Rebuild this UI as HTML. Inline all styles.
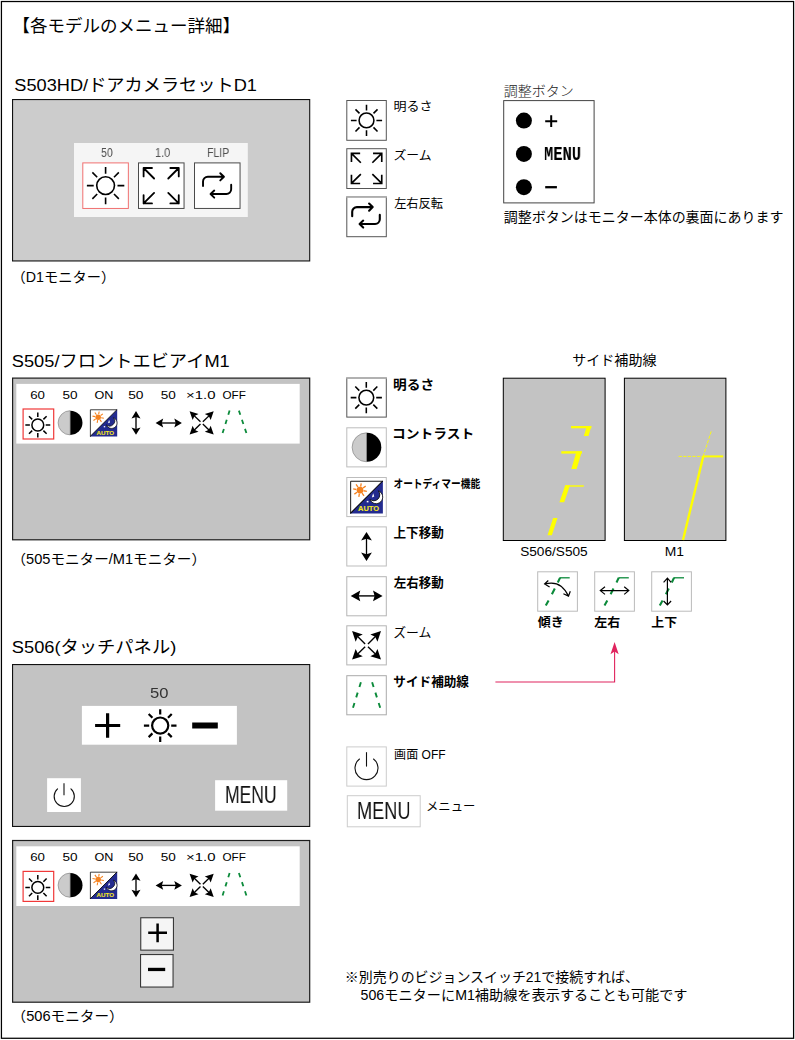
<!DOCTYPE html>
<html lang="ja">
<head>
<meta charset="utf-8">
<title>各モデルのメニュー詳細</title>
<style>
html,body{margin:0;padding:0;background:#fff}
body{width:795px;height:1040px;overflow:hidden;font-family:"Liberation Sans",sans-serif}
#page{position:relative;width:795px;height:1040px;background:#fff;overflow:hidden}
#art{position:absolute;left:0;top:0}
#art text{font-family:"Liberation Sans","Noto Sans CJK JP",sans-serif}
#text span{position:absolute;white-space:nowrap;transform-origin:0 0}
#text .l{will-change:transform}
</style>
</head>
<body>
<div id="page">
<svg id="art" width="795" height="1040" viewBox="0 0 795 1040">
<g id="shapes">
<rect x="1.43" y="1.52" width="792.15" height="1036.75" fill="none" stroke="#000" stroke-width="1.25"/>
<rect x="12.55" y="99.55" width="297.15" height="161.4" fill="#cccccc" stroke="#111" stroke-width="1.1"/>
<rect x="74" y="143" width="173.8" height="74" fill="#f5f5f5"/>
<rect x="82.8" y="162.9" width="45.55" height="45.55" fill="#fff" stroke="#f07070" stroke-width="1"/>
<rect x="138.5" y="162.9" width="45.55" height="45.55" fill="#fff" stroke="#4a4a4a" stroke-width="1"/>
<rect x="194.5" y="162.9" width="45.55" height="45.55" fill="#fff" stroke="#4a4a4a" stroke-width="1"/>
<circle cx="105.6" cy="185.6" r="8.88" fill="none" stroke="#000" stroke-width="1.6"/>
<path d="M117.48 185.6L124.32 185.6M114 194L118.84 198.84M105.6 197.48L105.6 204.32M97.2 194L92.36 198.84M93.72 185.6L86.88 185.6M97.2 177.2L92.36 172.36M105.6 173.72L105.6 166.88M114 177.2L118.84 172.36" fill="none" stroke="#000" stroke-width="1.6"/>
<path d="M152 168L143.6 168L143.6 176.4M143.6 168L154.1 178.5M170.35 168L178.75 168L178.75 176.4M178.75 168L168.25 178.5M152 203.45L143.6 203.45L143.6 195.05M143.6 203.45L154.1 192.95M170.35 203.45L178.75 203.45L178.75 195.05M178.75 203.45L168.25 192.95" fill="none" stroke="#000" stroke-width="1.8" stroke-linejoin="round" stroke-linecap="round"/>
<path d="M203.02 186.06V181.57A4.79 4.79 0 0 1 207.82 176.78H223.73M220.26 173.21L223.93 176.78L220.26 180.45M231.18 184.74V189.22A4.79 4.79 0 0 1 226.38 194.02H210.78M214.24 190.55L210.57 194.02L214.24 197.69" fill="none" stroke="#000" stroke-width="1.9" stroke-linecap="round" stroke-linejoin="round"/>
<rect x="346.8" y="100.5" width="39.5" height="39.8" fill="#fff" stroke="#555" stroke-width="1"/>
<rect x="346.8" y="148.7" width="39.5" height="39.8" fill="#fff" stroke="#555" stroke-width="1"/>
<rect x="346.8" y="196.9" width="39.5" height="39.8" fill="#fff" stroke="#555" stroke-width="1"/>
<circle cx="366.5" cy="120.4" r="7.4" fill="none" stroke="#000" stroke-width="1.55"/>
<path d="M376.4 120.4L382.1 120.4M373.5 127.4L377.53 131.43M366.5 130.3L366.5 136M359.5 127.4L355.47 131.43M356.6 120.4L350.9 120.4M359.5 113.4L355.47 109.37M366.5 110.5L366.5 104.8M373.5 113.4L377.53 109.37" fill="none" stroke="#000" stroke-width="1.55"/>
<path d="M360.15 153.35L351.45 153.35L351.45 162.05M351.45 153.35L360.85 162.75M373.05 153.35L381.75 153.35L381.75 162.05M381.75 153.35L372.35 162.75M360.15 183.45L351.45 183.45L351.45 174.75M351.45 183.45L360.85 174.05M373.05 183.45L381.75 183.45L381.75 174.75M381.75 183.45L372.35 174.05" fill="none" stroke="#000" stroke-width="1.65" stroke-linejoin="miter"/>
<path d="M352.2 216.2V211.8A4.7 4.7 0 0 1 356.9 207.1H372.5M369.1 203.6L372.7 207.1L369.1 210.7M379.8 214.9V219.3A4.7 4.7 0 0 1 375.1 224H359.8M363.2 220.6L359.6 224L363.2 227.6" fill="none" stroke="#000" stroke-width="2.1" stroke-linecap="round" stroke-linejoin="round"/>
<line x1="346.3" y1="197" x2="386.8" y2="197" stroke="#b4b4b4" stroke-width="1.4"/>
<rect x="503.7" y="100.6" width="90.4" height="102.3" fill="#fff" stroke="#444" stroke-width="1"/>
<circle cx="523.9" cy="120.6" r="8" fill="#000"/>
<circle cx="523.9" cy="153.9" r="8" fill="#000"/>
<circle cx="523.9" cy="187.2" r="8" fill="#000"/>
<path d="M545.2 121.2H557.2M551.2 115.3V127.1" fill="none" stroke="#000" stroke-width="2"/>
<path d="M545.2 187.2H556.9" fill="none" stroke="#000" stroke-width="2.3"/>
<rect x="12.6" y="378.1" width="297.1" height="161.7" fill="#c3c3c3" stroke="#1c1c1c" stroke-width="1.2"/>
<rect x="16.3" y="383.9" width="283.4" height="59.7" fill="#fff"/>
<rect x="23.1" y="409" width="30.6" height="30" fill="#fff" stroke="#f03838" stroke-width="1.2"/>
<circle cx="37.8" cy="425" r="5.92" fill="none" stroke="#000" stroke-width="1.5"/>
<path d="M45.72 425L50.28 425M43.4 430.6L46.62 433.82M37.8 432.92L37.8 437.48M32.2 430.6L28.98 433.82M29.88 425L25.32 425M32.2 419.4L28.98 416.18M37.8 417.08L37.8 412.52M43.4 419.4L46.62 416.18" fill="none" stroke="#000" stroke-width="1.5"/>
<path d="M70.2 410.7A12.1 12.1 0 0 0 70.2 434.9Z" fill="#cbcbcb" stroke="#777" stroke-width="0.6"/>
<path d="M70.4 410.7A12.1 12.1 0 0 1 70.4 434.9Z" fill="#000"/>
<g transform="translate(90 409.4) scale(0.8344)"><rect x="0" y="0" width="32.6" height="32.6" fill="#fff"/><path d="M32.6 0V32.6H0Z" fill="#232b8f"/><path d="M0.45 32.6V0.45H32.6" fill="none" stroke="#000" stroke-width="0.9"/><path d="M32.4 0.2L0.2 32.4" fill="none" stroke="#000" stroke-width="1.0"/><circle cx="9.8" cy="9.3" r="3.3" fill="#f5821f"/><path d="M13.35 9.93L16.6 10.5M11.86 12.25L13.76 14.95M9.17 12.85L8.6 16.1M6.85 11.36L4.15 13.26M6.25 8.67L3 8.1M7.74 6.35L5.84 3.65M10.43 5.75L11 2.5M12.75 7.24L15.45 5.34" stroke="#f5821f" stroke-width="1.3" fill="none"/><path d="M28.06 10A6.6 6.6 0 1 1 19.6 18.46A6 6 0 0 0 28.06 10Z" fill="#fff" stroke="#000" stroke-width="0.8" stroke-linejoin="round"/><path d="M22.9 12.4L24.0 15.6L21.6 16.6Z" fill="#fff"/><rect x="16.5" y="20.0" width="1.7" height="1.5" fill="#fff"/><text x="7.82" y="30.3" font-size="7.2" font-weight="bold" fill="#f5e61e" stroke="#f5e61e" stroke-width="0.13" textLength="20.9" lengthAdjust="spacingAndGlyphs">AUTO</text></g>
<line x1="136" y1="416.31" x2="136" y2="429.49" stroke="#000" stroke-width="1.35"/>
<path d="M136 434.8L131.5 427.4L136 428.9L140.5 427.4ZM136 411L140.5 418.4L136 416.9L131.5 418.4Z" fill="#000"/>
<line x1="161.18" y1="423" x2="176.32" y2="423" stroke="#000" stroke-width="1.35"/>
<path d="M181.9 423L174.3 427.4L175.7 423L174.3 418.6ZM155.6 423L163.2 418.6L161.8 423L163.2 427.4Z" fill="#000"/>
<line x1="200.46" y1="421.79" x2="194.08" y2="415.63" stroke="#000" stroke-width="1.36"/>
<line x1="202.84" y1="421.79" x2="209.22" y2="415.63" stroke="#000" stroke-width="1.36"/>
<line x1="200.46" y1="424.11" x2="194.08" y2="430.27" stroke="#000" stroke-width="1.36"/>
<line x1="202.84" y1="424.11" x2="209.22" y2="430.27" stroke="#000" stroke-width="1.36"/>
<path d="M189.6 411.3L198.52 414.03L194.5 416.04L192.63 420.12ZM213.7 411.3L210.67 420.12L208.8 416.04L204.78 414.03ZM189.6 434.6L192.63 425.78L194.5 429.86L198.52 431.87ZM213.7 434.6L204.78 431.87L208.8 429.86L210.67 425.78Z" fill="#000"/>
<line x1="229.6" y1="410.6" x2="222.6" y2="433.1" stroke="#0b8a3a" stroke-width="1.8" stroke-dasharray="4.4 5.19"/>
<line x1="238.9" y1="410.6" x2="246.4" y2="433.1" stroke="#0b8a3a" stroke-width="1.8" stroke-dasharray="4.42 5.22"/>
<rect x="346.8" y="378" width="39.5" height="39.1" fill="#fff" stroke="#555" stroke-width="1"/>
<rect x="346.8" y="427.8" width="39.5" height="39.1" fill="#fff" stroke="#bdbdbd" stroke-width="1"/>
<rect x="346.8" y="477.5" width="39.5" height="39.1" fill="#fff" stroke="#bdbdbd" stroke-width="1"/>
<rect x="346.8" y="526.9" width="39.5" height="39.1" fill="#fff" stroke="#bdbdbd" stroke-width="1"/>
<rect x="346.8" y="576.7" width="39.5" height="39.1" fill="#fff" stroke="#b5b5b5" stroke-width="1"/>
<rect x="346.8" y="625.8" width="39.5" height="39.1" fill="#fff" stroke="#b5b5b5" stroke-width="1"/>
<rect x="346.8" y="675.7" width="39.5" height="39.1" fill="#fff" stroke="#aaa" stroke-width="1"/>
<circle cx="366.3" cy="397.6" r="7.4" fill="none" stroke="#000" stroke-width="1.55"/>
<path d="M376.2 397.6L381.9 397.6M373.3 404.6L377.33 408.63M366.3 407.5L366.3 413.2M359.3 404.6L355.27 408.63M356.4 397.6L350.7 397.6M359.3 390.6L355.27 386.57M366.3 387.7L366.3 382M373.3 390.6L377.33 386.57" fill="none" stroke="#000" stroke-width="1.55"/>
<line x1="346.3" y1="378" x2="386.8" y2="378" stroke="#b4b4b4" stroke-width="1.3"/>
<path d="M366.6 432.8A14.5 14.5 0 0 0 366.6 461.8Z" fill="#cbcbcb" stroke="#777" stroke-width="0.6"/>
<path d="M366.8 432.8A14.5 14.5 0 0 1 366.8 461.8Z" fill="#000"/>
<g transform="translate(350.2 480.8) scale(1.0031)"><rect x="0" y="0" width="32.6" height="32.6" fill="#fff"/><path d="M32.6 0V32.6H0Z" fill="#232b8f"/><path d="M0.45 32.6V0.45H32.6" fill="none" stroke="#000" stroke-width="0.9"/><path d="M32.4 0.2L0.2 32.4" fill="none" stroke="#000" stroke-width="1.0"/><circle cx="9.8" cy="9.3" r="3.3" fill="#f5821f"/><path d="M13.35 9.93L16.6 10.5M11.86 12.25L13.76 14.95M9.17 12.85L8.6 16.1M6.85 11.36L4.15 13.26M6.25 8.67L3 8.1M7.74 6.35L5.84 3.65M10.43 5.75L11 2.5M12.75 7.24L15.45 5.34" stroke="#f5821f" stroke-width="1.3" fill="none"/><path d="M28.06 10A6.6 6.6 0 1 1 19.6 18.46A6 6 0 0 0 28.06 10Z" fill="#fff" stroke="#000" stroke-width="0.8" stroke-linejoin="round"/><path d="M22.9 12.4L24.0 15.6L21.6 16.6Z" fill="#fff"/><rect x="16.5" y="20.0" width="1.7" height="1.5" fill="#fff"/><text x="7.82" y="30.3" font-size="7.2" font-weight="bold" fill="#f5e61e" stroke="#f5e61e" stroke-width="0.13" textLength="20.9" lengthAdjust="spacingAndGlyphs">AUTO</text></g>
<line x1="366.5" y1="538.04" x2="366.5" y2="554.96" stroke="#000" stroke-width="1.3"/>
<path d="M366.5 560.9L361.1 552.4L366.5 554.3L371.9 552.4ZM366.5 532.1L371.9 540.6L366.5 538.7L361.1 540.6Z" fill="#000"/>
<line x1="357.9" y1="595.9" x2="375.4" y2="595.9" stroke="#000" stroke-width="1.4"/>
<path d="M382.6 595.9L373 601.2L374.6 595.9L373 590.6ZM350.7 595.9L360.3 590.6L358.7 595.9L360.3 601.2Z" fill="#000"/>
<line x1="365.13" y1="643.9" x2="357.43" y2="636.34" stroke="#000" stroke-width="1.35"/>
<line x1="367.97" y1="643.9" x2="375.67" y2="636.34" stroke="#000" stroke-width="1.35"/>
<line x1="365.13" y1="646.7" x2="357.43" y2="654.26" stroke="#000" stroke-width="1.35"/>
<line x1="367.97" y1="646.7" x2="375.67" y2="654.26" stroke="#000" stroke-width="1.35"/>
<path d="M352.1 631.1L362.77 634.46L357.93 636.83L355.65 641.71ZM381 631.1L377.45 641.71L375.17 636.83L370.33 634.46ZM352.1 659.5L355.65 648.89L357.93 653.77L362.77 656.14ZM381 659.5L370.33 656.14L375.17 653.77L377.45 648.89Z" fill="#000"/>
<line x1="360.9" y1="682.2" x2="353" y2="707.8" stroke="#0b8a3a" stroke-width="1.9" stroke-dasharray="5 5.9"/>
<line x1="372.1" y1="682.2" x2="380.2" y2="707.8" stroke="#0b8a3a" stroke-width="1.9" stroke-dasharray="5.01 5.91"/>
<rect x="346.8" y="746.9" width="39.5" height="39.2" fill="#fff" stroke="#ccc" stroke-width="1"/>
<path d="M373.52 758.99A11.5 11.5 0 1 1 359.48 758.99" fill="none" stroke="#111" stroke-width="1.1" stroke-linecap="round"/>
<path d="M366.5 752.2V766.6" fill="none" stroke="#111" stroke-width="1.1"/>
<rect x="347.3" y="795.7" width="72.9" height="31.1" fill="#fff" stroke="#ccc" stroke-width="1"/>
<rect x="503.3" y="378.2" width="101.8" height="162.3" fill="#c3c3c3" stroke="#000" stroke-width="1"/>
<rect x="624.4" y="378.2" width="101.5" height="162.3" fill="#c3c3c3" stroke="#000" stroke-width="1"/>
<path d="M547.5 535.3H551.9L557.5 518.1H553.1ZM559.4 502.3H564.2L570.0 485.3H565.2ZM571.3 469.0H576.6L581.9 451.4H576.5ZM583.8 435.9H588.5L591.4 426.1H586.9Z" fill="#ffff00"/>
<rect x="571" y="426" width="20.4" height="2.3" fill="#ffff00"/>
<rect x="561.3" y="451.2" width="20.6" height="2.4" fill="#ffff00"/>
<rect x="565.4" y="485.3" width="18.4" height="1.4" fill="#ffff00"/>
<path d="M683.0 540.0L703.2 456.6" fill="none" stroke="#ffff00" stroke-width="2.4"/>
<path d="M702.8 456.4H723.2" fill="none" stroke="#ffff00" stroke-width="2"/>
<path d="M703.2 456.4L711.2 431.4M678.6 456.4H703" fill="none" stroke="#ffff00" stroke-width="0.9" stroke-dasharray="3.3 1.3"/>
<rect x="537.7" y="571.8" width="39.7" height="39.4" fill="#fff" stroke="#bbb" stroke-width="1"/>
<rect x="594.7" y="571.8" width="39.7" height="39.4" fill="#fff" stroke="#bbb" stroke-width="1"/>
<rect x="651.7" y="571.8" width="39.7" height="39.4" fill="#fff" stroke="#bbb" stroke-width="1"/>
<path d="M560 577.8H569.7" fill="none" stroke="#0b8a3a" stroke-width="1.3"/>
<path d="M560.1 577.6L557.8 582.5M554.8 588.6L551.9 594.3M548.6 600.4L545.8 605.4" fill="none" stroke="#0b8a3a" stroke-width="2.1"/>
<path d="M544.8 584Q560.7 579.5 568.3 595.8M548.3 580.5L544.6 584L549.6 587.1M570.3 591.2L568.5 596.1L563.4 593.8" fill="none" stroke="#000" stroke-width="1.2" stroke-linecap="butt" stroke-linejoin="miter"/>
<path d="M618.7 577.8H628.8" fill="none" stroke="#0b8a3a" stroke-width="1.3"/>
<path d="M618.8 577.6L616.5 582.5M613.5 588.6L610.6 594.3M607.3 600.4L604.5 605.4" fill="none" stroke="#0b8a3a" stroke-width="2.1"/>
<path d="M600.5 590.6H628.6M605 586.8L600.3 590.6L605 594.4M624.2 586.8L628.8 590.6L624.2 594.4" fill="none" stroke="#000" stroke-width="1.2" stroke-linecap="butt" stroke-linejoin="miter"/>
<path d="M674 577.8H684" fill="none" stroke="#0b8a3a" stroke-width="1.3"/>
<path d="M674.1 577.6L671.8 582.5M668.8 588.6L665.9 594.3M662.6 600.4L659.8 605.4" fill="none" stroke="#0b8a3a" stroke-width="2.1"/>
<path d="M667.4 578.4V604.7M663.6 582.3L667.4 578.2L671.1 582.3M663.6 601L667.4 604.9L671.1 601" fill="none" stroke="#000" stroke-width="1.2" stroke-linecap="butt" stroke-linejoin="miter"/>
<path d="M495.4 682H614.6V650" fill="none" stroke="#e0245e" stroke-width="1.1"/>
<path d="M614.6 642.1L618.7 654.2L614.6 651.6L610.5 654.2Z" fill="#e0245e"/>
<rect x="12.55" y="664.55" width="297.15" height="161.9" fill="#c3c3c3" stroke="#111" stroke-width="1.1"/>
<rect x="81.9" y="705.9" width="155" height="38.8" fill="#fff"/>
<path d="M95.1 725.5H120.2M107.6 713.2V737.8" fill="none" stroke="#000" stroke-width="3.2"/>
<circle cx="160.2" cy="725.6" r="8.1" fill="none" stroke="#000" stroke-width="2.2"/>
<path d="M171.2 725.6L176.5 725.6M167.98 733.38L171.73 737.13M160.2 736.6L160.2 741.9M152.42 733.38L148.67 737.13M149.2 725.6L143.9 725.6M152.42 717.82L148.67 714.07M160.2 714.6L160.2 709.3M167.98 717.82L171.73 714.07" fill="none" stroke="#000" stroke-width="2.2"/>
<rect x="192.2" y="722.5" width="25.6" height="6" fill="#000"/>
<rect x="47.1" y="778.2" width="33.8" height="33.8" fill="#fff"/>
<path d="M70.94 788.84A10.1 10.1 0 1 1 57.56 788.84" fill="none" stroke="#111" stroke-width="1.1" stroke-linecap="round"/>
<path d="M64 783.2V795.3" fill="none" stroke="#111" stroke-width="1.1"/>
<rect x="215.1" y="780.2" width="72.1" height="30.5" fill="#fff"/>
<rect x="12.6" y="840.5" width="297.1" height="161.7" fill="#c3c3c3" stroke="#1c1c1c" stroke-width="1.2"/>
<rect x="16.3" y="846.3" width="283.4" height="59.7" fill="#fff"/>
<rect x="23.1" y="871.4" width="30.6" height="30" fill="#fff" stroke="#f03838" stroke-width="1.2"/>
<circle cx="37.8" cy="887.4" r="5.92" fill="none" stroke="#000" stroke-width="1.5"/>
<path d="M45.72 887.4L50.28 887.4M43.4 893L46.62 896.22M37.8 895.32L37.8 899.88M32.2 893L28.98 896.22M29.88 887.4L25.32 887.4M32.2 881.8L28.98 878.58M37.8 879.48L37.8 874.92M43.4 881.8L46.62 878.58" fill="none" stroke="#000" stroke-width="1.5"/>
<path d="M70.2 873.1A12.1 12.1 0 0 0 70.2 897.3Z" fill="#cbcbcb" stroke="#777" stroke-width="0.6"/>
<path d="M70.4 873.1A12.1 12.1 0 0 1 70.4 897.3Z" fill="#000"/>
<g transform="translate(90 871.8) scale(0.8344)"><rect x="0" y="0" width="32.6" height="32.6" fill="#fff"/><path d="M32.6 0V32.6H0Z" fill="#232b8f"/><path d="M0.45 32.6V0.45H32.6" fill="none" stroke="#000" stroke-width="0.9"/><path d="M32.4 0.2L0.2 32.4" fill="none" stroke="#000" stroke-width="1.0"/><circle cx="9.8" cy="9.3" r="3.3" fill="#f5821f"/><path d="M13.35 9.93L16.6 10.5M11.86 12.25L13.76 14.95M9.17 12.85L8.6 16.1M6.85 11.36L4.15 13.26M6.25 8.67L3 8.1M7.74 6.35L5.84 3.65M10.43 5.75L11 2.5M12.75 7.24L15.45 5.34" stroke="#f5821f" stroke-width="1.3" fill="none"/><path d="M28.06 10A6.6 6.6 0 1 1 19.6 18.46A6 6 0 0 0 28.06 10Z" fill="#fff" stroke="#000" stroke-width="0.8" stroke-linejoin="round"/><path d="M22.9 12.4L24.0 15.6L21.6 16.6Z" fill="#fff"/><rect x="16.5" y="20.0" width="1.7" height="1.5" fill="#fff"/><text x="7.82" y="30.3" font-size="7.2" font-weight="bold" fill="#f5e61e" stroke="#f5e61e" stroke-width="0.13" textLength="20.9" lengthAdjust="spacingAndGlyphs">AUTO</text></g>
<line x1="136" y1="878.71" x2="136" y2="891.89" stroke="#000" stroke-width="1.35"/>
<path d="M136 897.2L131.5 889.8L136 891.3L140.5 889.8ZM136 873.4L140.5 880.8L136 879.3L131.5 880.8Z" fill="#000"/>
<line x1="161.18" y1="885.4" x2="176.32" y2="885.4" stroke="#000" stroke-width="1.35"/>
<path d="M181.9 885.4L174.3 889.8L175.7 885.4L174.3 881ZM155.6 885.4L163.2 881L161.8 885.4L163.2 889.8Z" fill="#000"/>
<line x1="200.46" y1="884.19" x2="194.08" y2="878.03" stroke="#000" stroke-width="1.36"/>
<line x1="202.84" y1="884.19" x2="209.22" y2="878.03" stroke="#000" stroke-width="1.36"/>
<line x1="200.46" y1="886.51" x2="194.08" y2="892.67" stroke="#000" stroke-width="1.36"/>
<line x1="202.84" y1="886.51" x2="209.22" y2="892.67" stroke="#000" stroke-width="1.36"/>
<path d="M189.6 873.7L198.52 876.43L194.5 878.44L192.63 882.52ZM213.7 873.7L210.67 882.52L208.8 878.44L204.78 876.43ZM189.6 897L192.63 888.18L194.5 892.26L198.52 894.27ZM213.7 897L204.78 894.27L208.8 892.26L210.67 888.18Z" fill="#000"/>
<line x1="229.6" y1="873" x2="222.6" y2="895.5" stroke="#0b8a3a" stroke-width="1.8" stroke-dasharray="4.4 5.19"/>
<line x1="238.9" y1="873" x2="246.4" y2="895.5" stroke="#0b8a3a" stroke-width="1.8" stroke-dasharray="4.42 5.22"/>
<rect x="140.75" y="917.75" width="32.7" height="32.4" fill="#f5f5f5" stroke="#383838" stroke-width="1.1"/>
<rect x="140.55" y="954.55" width="32.5" height="32.5" fill="#f5f5f5" stroke="#383838" stroke-width="1.1"/>
<path d="M148.2 932.8H167.0M157.6 923.4V942.2" fill="none" stroke="#000" stroke-width="2.5"/>
<rect x="148" y="967.8" width="17.2" height="3.3" fill="#000"/>
</g>
<g id="labels" fill="#000">
<text x="12.44" y="32.11" font-size="17.5" textLength="227.63" lengthAdjust="spacingAndGlyphs">【各モデルのメニュー詳細】</text>
<text x="14.32" y="91.3" font-size="17.4" textLength="242.63" lengthAdjust="spacingAndGlyphs">S503HD/ドアカメラセットD1</text>
<text x="11.64" y="282.43" font-size="13.9" textLength="103.53" lengthAdjust="spacingAndGlyphs">（D1モニター）</text>
<text x="393.45" y="111.29" font-size="12.2" textLength="39.15" lengthAdjust="spacingAndGlyphs">明るさ</text>
<text x="393.48" y="159.51" font-size="12.2" textLength="38.16" lengthAdjust="spacingAndGlyphs">ズーム</text>
<text x="394.15" y="207.93" font-size="12.2" textLength="48.86" lengthAdjust="spacingAndGlyphs">左右反転</text>
<text x="503.81" y="96.24" font-size="13.9" font-weight="300" fill="#222" textLength="70.08" lengthAdjust="spacingAndGlyphs">調整ボタン</text>
<text x="503.86" y="222.1" font-size="13.9" textLength="279.64" lengthAdjust="spacingAndGlyphs">調整ボタンはモニター本体の裏面にあります</text>
<text x="11.82" y="367" font-size="17.4" textLength="217.94" lengthAdjust="spacingAndGlyphs">S505/フロントエビアイM1</text>
<text x="30.19" y="398.6" font-size="11" textLength="14.78" lengthAdjust="spacingAndGlyphs">60</text>
<text x="62.48" y="398.6" font-size="11" textLength="15.1" lengthAdjust="spacingAndGlyphs">50</text>
<text x="94.41" y="398.6" font-size="11" textLength="18.9" lengthAdjust="spacingAndGlyphs">ON</text>
<text x="128.17" y="398.6" font-size="11" textLength="15.33" lengthAdjust="spacingAndGlyphs">50</text>
<text x="160.68" y="398.6" font-size="11" textLength="15.1" lengthAdjust="spacingAndGlyphs">50</text>
<text x="186.05" y="398.6" font-size="11" textLength="29.41" lengthAdjust="spacingAndGlyphs">×1.0</text>
<text x="222.42" y="398.6" font-size="11" textLength="23.38" lengthAdjust="spacingAndGlyphs">OFF</text>
<text x="11.54" y="563.68" font-size="13.9" textLength="194.51" lengthAdjust="spacingAndGlyphs">（505モニター/M1モニター）</text>
<text x="393.1" y="388.7" font-size="12.7" font-weight="600" textLength="41.1" lengthAdjust="spacingAndGlyphs">明るさ</text>
<text x="392.04" y="438.05" font-size="12.7" font-weight="600" textLength="82.27" lengthAdjust="spacingAndGlyphs">コントラスト</text>
<text x="393.42" y="488.16" font-size="11.5" font-weight="600" textLength="86.83" lengthAdjust="spacingAndGlyphs">オートディマー機能</text>
<text x="393.52" y="537.48" font-size="12.7" font-weight="600" textLength="50.28" lengthAdjust="spacingAndGlyphs">上下移動</text>
<text x="393.82" y="586.94" font-size="12.7" font-weight="600" textLength="49.98" lengthAdjust="spacingAndGlyphs">左右移動</text>
<text x="393.15" y="637.1" font-size="12.7" textLength="38.24" lengthAdjust="spacingAndGlyphs">ズーム</text>
<text x="393.33" y="685.78" font-size="12.7" font-weight="600" textLength="75.6" lengthAdjust="spacingAndGlyphs">サイド補助線</text>
<text x="394.11" y="759.37" font-size="12" textLength="51.5" lengthAdjust="spacingAndGlyphs">画面 OFF</text>
<text x="425.99" y="810.88" font-size="12" textLength="49.48" lengthAdjust="spacingAndGlyphs">メニュー</text>
<text x="572.15" y="365.33" font-size="13.9" textLength="84.38" lengthAdjust="spacingAndGlyphs">サイド補助線</text>
<text x="520.18" y="555.56" font-size="12" textLength="67.51" lengthAdjust="spacingAndGlyphs">S506/S505</text>
<text x="664.84" y="556.06" font-size="12" textLength="19.24" lengthAdjust="spacingAndGlyphs">M1</text>
<text x="537.83" y="626.94" font-size="12.2" font-weight="600" textLength="25.91" lengthAdjust="spacingAndGlyphs">傾き</text>
<text x="594.31" y="626.98" font-size="12.2" font-weight="600" textLength="25.83" lengthAdjust="spacingAndGlyphs">左右</text>
<text x="651.3" y="626.92" font-size="12.2" font-weight="600" textLength="25.77" lengthAdjust="spacingAndGlyphs">上下</text>
<text x="11.82" y="652.5" font-size="17.4" textLength="164.43" lengthAdjust="spacingAndGlyphs">S506(タッチパネル)</text>
<text x="30.19" y="861" font-size="11" textLength="14.78" lengthAdjust="spacingAndGlyphs">60</text>
<text x="62.48" y="861" font-size="11" textLength="15.1" lengthAdjust="spacingAndGlyphs">50</text>
<text x="94.41" y="861" font-size="11" textLength="18.9" lengthAdjust="spacingAndGlyphs">ON</text>
<text x="128.17" y="861" font-size="11" textLength="15.33" lengthAdjust="spacingAndGlyphs">50</text>
<text x="160.68" y="861" font-size="11" textLength="15.1" lengthAdjust="spacingAndGlyphs">50</text>
<text x="186.05" y="861" font-size="11" textLength="29.41" lengthAdjust="spacingAndGlyphs">×1.0</text>
<text x="222.42" y="861" font-size="11" textLength="23.38" lengthAdjust="spacingAndGlyphs">OFF</text>
<text x="11.51" y="1021.18" font-size="13.9" textLength="112.17" lengthAdjust="spacingAndGlyphs">（506モニター）</text>
<text x="344.87" y="982.02" font-size="13.9" textLength="294.13" lengthAdjust="spacingAndGlyphs">※別売りのビジョンスイッチ21で接続すれば、</text>
<text x="360.6" y="1000.13" font-size="13.9" textLength="326.9" lengthAdjust="spacingAndGlyphs">506モニターにM1補助線を表示することも可能です</text>
</g>
</svg>
<div id="text">
<span class="l " style="left:101.17px;top:145.73px;font:normal 12.65px/1.2 'Liberation Sans',sans-serif;color:#505050;transform:scaleX(0.8419)">50</span>
<span class="l " style="left:154.76px;top:145.73px;font:normal 12.65px/1.2 'Liberation Sans',sans-serif;color:#505050;transform:scaleX(0.8684)">1.0</span>
<span class="l " style="left:206.64px;top:145.73px;font:normal 12.65px/1.2 'Liberation Sans',sans-serif;color:#505050;transform:scaleX(0.8320)">FLIP</span>
<span class="l " style="left:544.25px;top:143.19px;font:bold 20.8px/1.2 'Liberation Mono',monospace;color:#000;transform:scaleX(0.7414)">MENU</span>
<span class="l " style="left:357.01px;top:797.27px;font:normal 23.69px/1.2 'Liberation Sans',sans-serif;color:#111;transform:scaleX(0.7668)">MENU</span>
<span class="l " style="left:150.14px;top:684.48px;font:normal 15.55px/1.2 'Liberation Sans',sans-serif;color:#333;transform:scaleX(1.0642)">50</span>
<span class="l " style="left:224.86px;top:781.11px;font:normal 23.55px/1.2 'Liberation Sans',sans-serif;color:#111;transform:scaleX(0.7456)">MENU</span>
</div>
</div>
</body>
</html>
